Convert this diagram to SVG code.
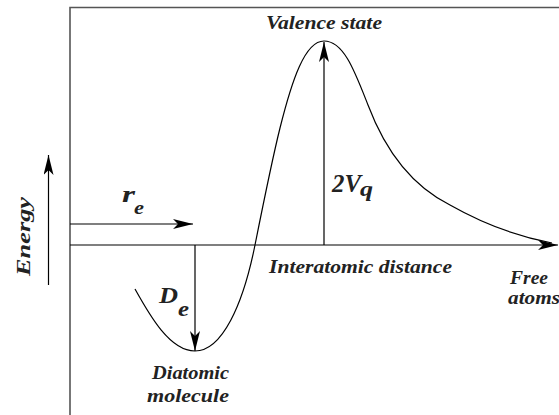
<svg xmlns="http://www.w3.org/2000/svg" width="559" height="415" viewBox="0 0 559 415">
<style>
.t{font-family:"Liberation Serif","Times New Roman",serif;font-weight:bold;font-style:italic;fill:#222;}
.ln{stroke:#000;stroke-width:1.2;fill:none;}
.fr{stroke:#555;stroke-width:1.6;fill:none;}
</style>
<defs>
<marker id="ah" viewBox="0 0 20 10" refX="20" refY="5" markerWidth="20" markerHeight="10" markerUnits="userSpaceOnUse" orient="auto">
<path d="M0,0 L20,5 L0,10 L5,5 Z" fill="#000"/>
</marker>
</defs>
<g id="frame">
<path class="fr" d="M70,415 V7.5 H559"/>
</g>
<g id="connectors">
<line class="ln" x1="70" y1="245" x2="558" y2="245" marker-end="url(#ah)"/>
<line class="ln" x1="48.5" y1="285" x2="48.5" y2="155" marker-end="url(#ah)"/>
<line class="ln" x1="70" y1="224" x2="193" y2="224" marker-end="url(#ah)"/>
<line class="ln" x1="195" y1="245" x2="195" y2="351" marker-end="url(#ah)"/>
<line class="ln" x1="324" y1="245" x2="324" y2="42" marker-end="url(#ah)"/>
<path class="ln" d="M135,289 C150,316 170,351 195,351 C222,351 243,305 255,245 C265,195 272,160 280,128 C292,80 305,41 324,41 C344,41 355,72 368,105 C385,150 410,185 450,205 C480,222 515,236 552,243"/>
</g>
<g id="labels">
<text class="t" transform="translate(30,276) rotate(-90)" x="0" y="0" font-size="18" textLength="79" lengthAdjust="spacingAndGlyphs">Energy</text>
<text class="t" x="122" y="202" font-size="23" textLength="13" lengthAdjust="spacingAndGlyphs">r</text>
<text class="t" x="134" y="214" font-size="19" textLength="10" lengthAdjust="spacingAndGlyphs">e</text>
<text class="t" x="159" y="303" font-size="23" textLength="19" lengthAdjust="spacingAndGlyphs">D</text>
<text class="t" x="178" y="316" font-size="20" textLength="11" lengthAdjust="spacingAndGlyphs">e</text>
<text class="t" x="332" y="192" font-size="25" textLength="29" lengthAdjust="spacingAndGlyphs">2V</text>
<text class="t" x="360" y="196" font-size="21" textLength="13" lengthAdjust="spacingAndGlyphs">q</text>
<text class="t" x="266" y="29" font-size="18" textLength="116" lengthAdjust="spacingAndGlyphs">Valence state</text>
<text class="t" x="269" y="273" font-size="18" textLength="183" lengthAdjust="spacingAndGlyphs">Interatomic distance</text>
<text class="t" x="510" y="284" font-size="18" textLength="38" lengthAdjust="spacingAndGlyphs">Free</text>
<text class="t" x="508" y="304" font-size="18" textLength="52" lengthAdjust="spacingAndGlyphs">atoms</text>
<text class="t" x="152" y="379" font-size="18" textLength="77" lengthAdjust="spacingAndGlyphs">Diatomic</text>
<text class="t" x="147" y="402" font-size="18" textLength="82" lengthAdjust="spacingAndGlyphs">molecule</text>
</g>
</svg>
